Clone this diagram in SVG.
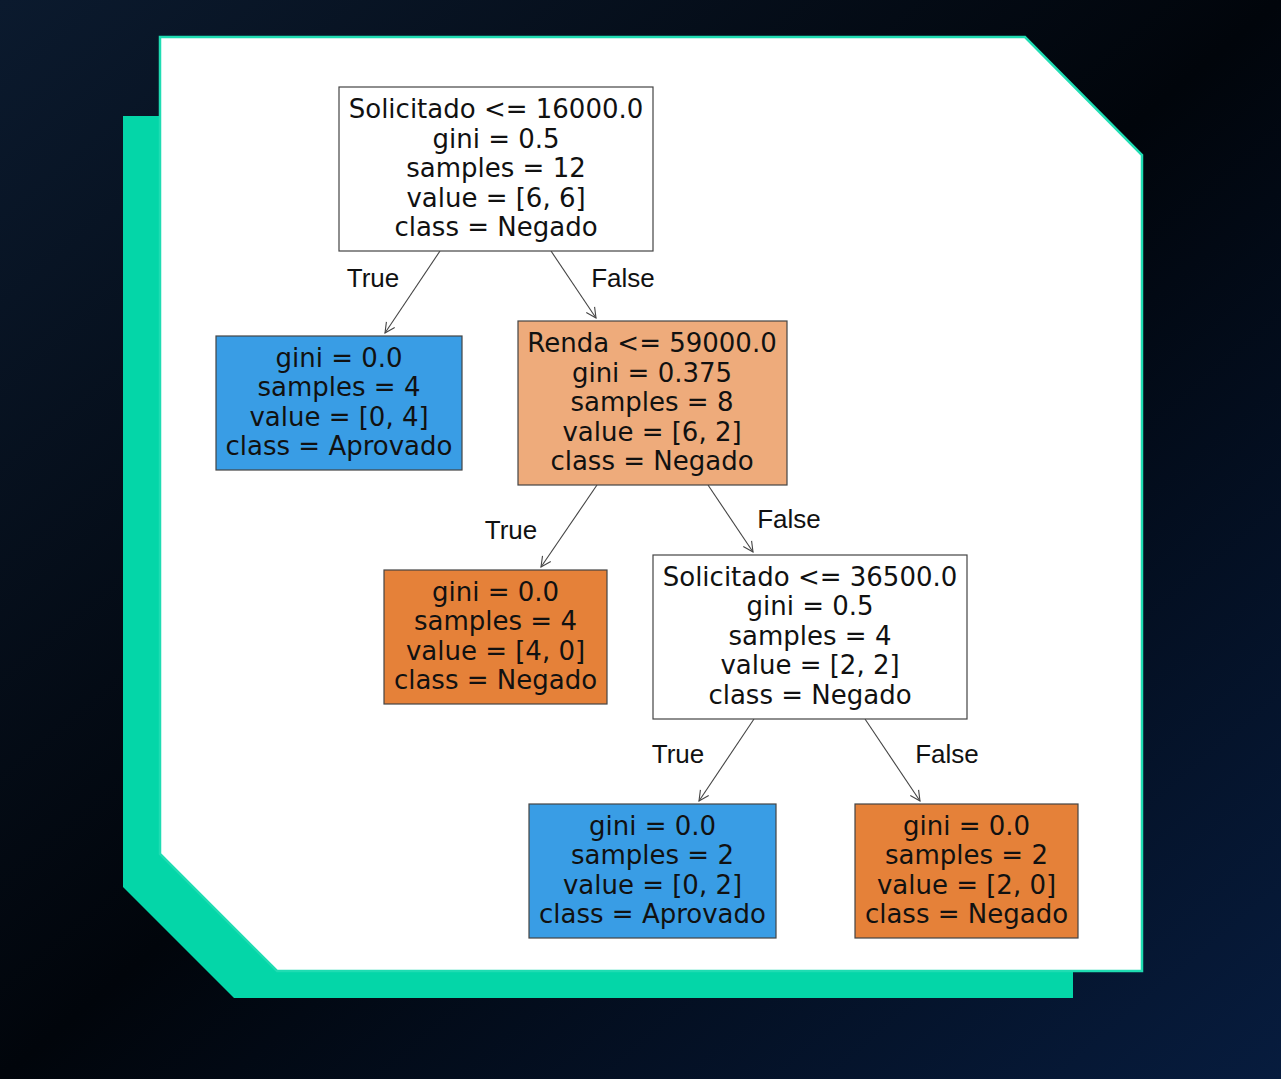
<svg xmlns="http://www.w3.org/2000/svg" width="1281" height="1079" viewBox="0 0 1281 1079">
<defs>
<linearGradient id="bg" x1="0" y1="0" x2="1" y2="1">
<stop offset="0" stop-color="#0b1a2e"/>
<stop offset="0.5" stop-color="#01050b"/>
<stop offset="1" stop-color="#071c3e"/>
</linearGradient>
<marker id="arr" viewBox="0 0 12 12" refX="11" refY="6" markerWidth="12" markerHeight="12" markerUnits="userSpaceOnUse" orient="auto">
<path d="M1,1 L11,6 L1,11" fill="none" stroke="#444" stroke-width="1.1"/>
</marker>
<style>
.box{stroke:#444;stroke-width:1.2}
.t{font-family:"DejaVu Sans",sans-serif;font-size:26px;fill:#111;text-anchor:middle}
.e{font-family:"Liberation Sans",Arial,sans-serif;font-size:26px;fill:#111;text-anchor:middle}
.c line{stroke:#444;stroke-width:1.1;marker-end:url(#arr)}
</style>
</defs>
<rect width="1281" height="1079" fill="url(#bg)"/>
<polygon points="123,116 1073,116 1073,998 234,998 123,887" fill="#04d6a8"/>
<polygon points="160,37 1025,37 1142,155 1142,971 277,971 160,854" fill="#ffffff" stroke="#1fdcb2" stroke-width="2.5"/>

<g class="c" id="connectors">
<line x1="440" y1="251" x2="385" y2="333"/>
<line x1="551" y1="251" x2="596" y2="318"/>
<line x1="597" y1="485" x2="541" y2="567"/>
<line x1="708" y1="485" x2="753" y2="552"/>
<line x1="754" y1="719" x2="699" y2="801"/>
<line x1="865" y1="719" x2="920" y2="801"/>
<text class="e" x="373" y="287">True</text>
<text class="e" x="623" y="287">False</text>
<text class="e" x="511" y="539">True</text>
<text class="e" x="789" y="528">False</text>
<text class="e" x="678" y="763">True</text>
<text class="e" x="947" y="763">False</text>
</g>

<g id="n0">
<rect class="box" x="339" y="87" width="314" height="164" fill="#ffffff"/>
<text class="t" x="496" y="118">Solicitado &lt;= 16000.0</text>
<text class="t" x="496" y="148">gini = 0.5</text>
<text class="t" x="496" y="177">samples = 12</text>
<text class="t" x="496" y="207">value = [6, 6]</text>
<text class="t" x="496" y="236">class = Negado</text>
</g>

<g id="n1">
<rect class="box" x="216" y="336" width="246" height="134" fill="#399de5"/>
<text class="t" x="339" y="367">gini = 0.0</text>
<text class="t" x="339" y="396">samples = 4</text>
<text class="t" x="339" y="426">value = [0, 4]</text>
<text class="t" x="339" y="455">class = Aprovado</text>
</g>

<g id="n2">
<rect class="box" x="518" y="321" width="269" height="164" fill="#eeab7b"/>
<text class="t" x="652" y="352">Renda &lt;= 59000.0</text>
<text class="t" x="652" y="382">gini = 0.375</text>
<text class="t" x="652" y="411">samples = 8</text>
<text class="t" x="652" y="441">value = [6, 2]</text>
<text class="t" x="652" y="470">class = Negado</text>
</g>

<g id="n3">
<rect class="box" x="384" y="570" width="223" height="134" fill="#e58139"/>
<text class="t" x="495.5" y="601">gini = 0.0</text>
<text class="t" x="495.5" y="630">samples = 4</text>
<text class="t" x="495.5" y="660">value = [4, 0]</text>
<text class="t" x="495.5" y="689">class = Negado</text>
</g>

<g id="n4">
<rect class="box" x="653" y="555" width="314" height="164" fill="#ffffff"/>
<text class="t" x="810" y="586">Solicitado &lt;= 36500.0</text>
<text class="t" x="810" y="615">gini = 0.5</text>
<text class="t" x="810" y="645">samples = 4</text>
<text class="t" x="810" y="674">value = [2, 2]</text>
<text class="t" x="810" y="704">class = Negado</text>
</g>

<g id="n5">
<rect class="box" x="529" y="804" width="247" height="134" fill="#399de5"/>
<text class="t" x="652.5" y="835">gini = 0.0</text>
<text class="t" x="652.5" y="864">samples = 2</text>
<text class="t" x="652.5" y="894">value = [0, 2]</text>
<text class="t" x="652.5" y="923">class = Aprovado</text>
</g>

<g id="n6">
<rect class="box" x="855" y="804" width="223" height="134" fill="#e58139"/>
<text class="t" x="966.5" y="835">gini = 0.0</text>
<text class="t" x="966.5" y="864">samples = 2</text>
<text class="t" x="966.5" y="894">value = [2, 0]</text>
<text class="t" x="966.5" y="923">class = Negado</text>
</g>
</svg>
